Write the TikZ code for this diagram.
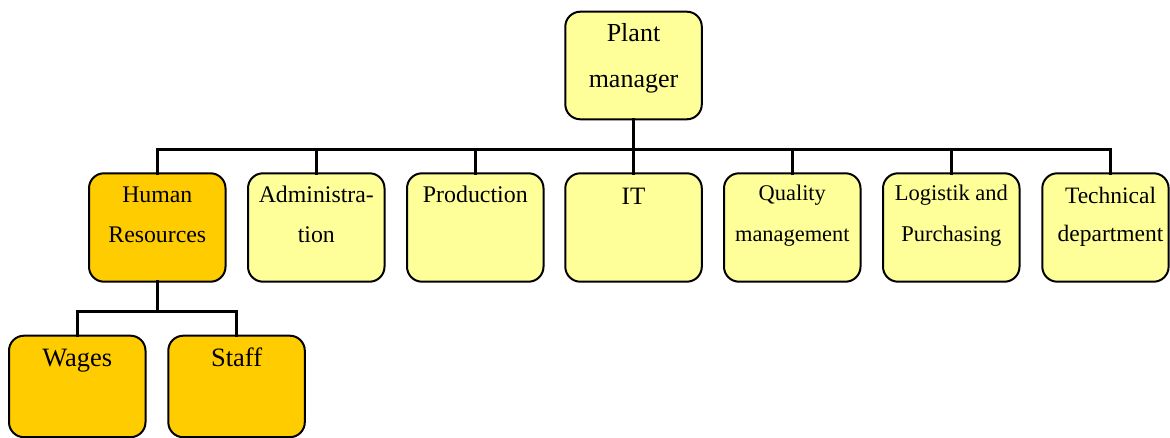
\documentclass[tikz,border=0pt]{standalone}
\usepackage{fontspec}
\setmainfont{Liberation Serif}
\definecolor{paleyellow}{HTML}{FFFF99}
\definecolor{hrorange}{HTML}{FFCC00}
\newcommand{\fsz}[2]{\fontsize{#1}{#2}\selectfont}
\begin{document}
\begin{tikzpicture}[x=1pt, y=-1pt,
  unitbox/.style={draw=black, line width=2pt, rounded corners=15pt,
    inner sep=0pt, outer sep=0pt, anchor=north west,
    minimum width=136.5pt, minimum height=108.4pt},
  deptbox/.style={unitbox, fill=paleyellow},
  hrbox/.style={unitbox, fill=hrorange},
  lbl/.style={anchor=base, align=center, inner sep=0pt, text=black},
  wire/.style={draw=black, line width=3pt, line cap=rect}]
\useasboundingbox (0,0) rectangle (1170,438);

% top level (labels are placed by the baseline of their last line)
\node[deptbox, minimum height=107.6pt] (pm) at (565.3,11.7) {};
\node[lbl, font=\fsz{26}{45.6}] (pmtxt) at (633.5,87.3) {Plant\\manager};

% departments
\node[hrbox]   (hr)   at (89,173.3)    {};
\node[deptbox] (adm)  at (248,173.3)   {};
\node[deptbox] (prod) at (407,173.3)   {};
\node[deptbox] (it)   at (565.3,173.3) {};
\node[deptbox] (qm)   at (724,173.3)   {};
\node[deptbox] (log)  at (883,173.3)   {};
\node[deptbox, minimum width=126.3pt] (tech) at (1042.3,173.3) {};
\coordinate (techtap) at (1110.3,173.3);

\node[lbl, font=\fsz{23.8}{40}] (hrtxt)   at (157.3,242.3) {Human\\Resources};
\node[lbl, font=\fsz{23.8}{40}] (admtxt)  at (316.3,242.3) {Administra-\\tion};
\node[lbl, font=\fsz{23.9}{40}] (prodtxt) at (475.3,202.3) {Production};
\node[lbl, font=\fsz{25}{40}]   (ittxt)   at (633.5,205)   {IT};
\node[lbl, font=\fsz{22.4}{41}] (qmtxt)   at (792.3,241.7) {Quality\\management};
\node[lbl, font=\fsz{22.5}{41}] (logtxt)  at (951.3,241.7) {Logistik and\\Purchasing};
\node[lbl, font=\fsz{23.5}{38.4}] (techtxt) at (1110.5,241.7) {Technical\\department};

% human resources sub-units
\node[hrbox, minimum height=101.5pt] (wages) at (9,335.7)     {};
\node[hrbox, minimum height=101.5pt] (staff) at (168.3,335.7) {};
\node[lbl, font=\fsz{26.5}{40}] (wagestxt) at (77.3,366.7)  {Wages};
\node[lbl, font=\fsz{26.5}{40}] (stafftxt) at (236.6,366.7) {Staff};

% connectors
\coordinate (bus) at (0,150);
\coordinate (hrbus) at (0,311.7);
\draw[wire] (pm.south) -- (pm.south |- bus);
\draw[wire] (hr.north) -- (hr.north |- bus) -- (techtap |- bus) -- (techtap);
\foreach \n in {adm,prod,it,qm,log}
  \draw[wire] (\n.north) -- (\n.north |- bus);
\draw[wire] (hr.south) -- (hr.south |- hrbus);
\draw[wire] (wages.north) -- (wages.north |- hrbus) -- (staff.north |- hrbus) -- (staff.north);
\end{tikzpicture}
\end{document}
